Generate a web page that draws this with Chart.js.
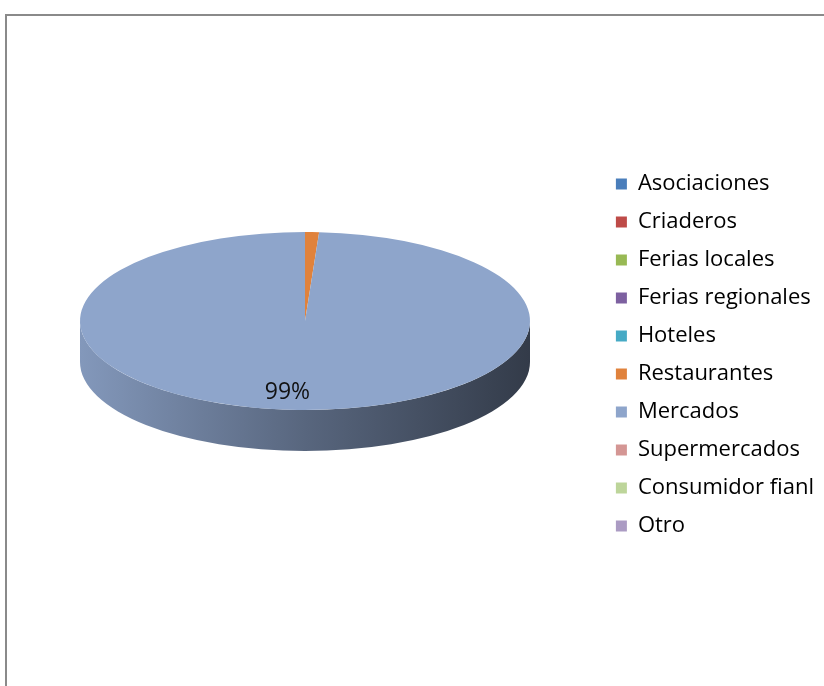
<!DOCTYPE html>
<html>
<head>
<meta charset="utf-8">
<script src="https://cdn.jsdelivr.net/npm/chart.js@4.4.1/dist/chart.umd.min.js"></script>
<style>
  html, body { margin: 0; padding: 0; background: #fff; }
  body { width: 824px; height: 686px; position: relative; overflow: hidden; }
  #frame {
    position: absolute; left: 5px; top: 14px; width: 840px; height: 700px;
    border-left: 2px solid #8a8a8a; border-top: 2px solid #8a8a8a;
  }
  #wrap { position: absolute; left: 0; top: 0; width: 824px; height: 686px; }
</style>
</head>
<body>
<div id="frame"></div>
<div id="wrap"><canvas id="PieChart"></canvas></div>
<script>
const categories = [
  "Asociaciones", "Criaderos", "Ferias locales", "Ferias regionales", "Hoteles",
  "Restaurantes", "Mercados", "Supermercados", "Consumidor fianl", "Otro"
];
const shares = [0, 0, 0, 0, 0, 1, 99, 0, 0, 0];
const sliceColors = [
  "#4a7ebb", "#be4b48", "#98b954", "#7d60a0", "#46aac5",
  "#e0823c", "#8ea5cb", "#d49694", "#bdd59a", "#ab9bc3"
];

// ellipse look of the pie
const CENTER_X = 305;
const CENTER_Y = 321;
const RADIUS = 225;
const FLAT = 89 / 225;
const DEPTH = 41;

function shade(hex, f) {
  const n = parseInt(hex.slice(1), 16);
  const r = Math.round(((n >> 16) & 255) * f);
  const g = Math.round(((n >> 8) & 255) * f);
  const b = Math.round((n & 255) * f);
  return "rgb(" + r + "," + g + "," + b + ")";
}

const pie3d = {
  id: "pie3d",
  beforeDatasetsDraw(chart) {
    const ctx = chart.ctx;
    const arcs = chart.getDatasetMeta(0).data;
    arcs.forEach(function(arc, i) {
      // only the front half of the rim is visible
      const a1 = Math.max(arc.startAngle, 0);
      const a2 = Math.min(arc.endAngle, Math.PI);
      if (a2 <= a1) return;
      const rx = arc.outerRadius;
      const ry = rx * FLAT;
      const grad = ctx.createLinearGradient(CENTER_X - rx, 0, CENTER_X + rx, 0);
      grad.addColorStop(0, shade(sliceColors[i], 0.92));
      grad.addColorStop(0.5, shade(sliceColors[i], 0.62));
      grad.addColorStop(1, shade(sliceColors[i], 0.36));
      ctx.save();
      ctx.beginPath();
      ctx.ellipse(CENTER_X, CENTER_Y, rx, ry, 0, a1, a2);
      ctx.ellipse(CENTER_X, CENTER_Y + DEPTH, rx, ry, 0, a2, a1, true);
      ctx.closePath();
      ctx.fillStyle = grad;
      ctx.fill();
      ctx.restore();
    });
  },
  beforeDatasetDraw(chart) {
    // squash the round pie into the top face of the disc
    const arc = chart.getDatasetMeta(0).data[0];
    const ctx = chart.ctx;
    ctx.save();
    ctx.translate(CENTER_X, CENTER_Y);
    ctx.scale(1, FLAT);
    ctx.translate(-arc.x, -arc.y);
  },
  afterDatasetDraw(chart) {
    chart.ctx.restore();
  },
  afterDatasetsDraw(chart) {
    const ctx = chart.ctx;
    const arcs = chart.getDatasetMeta(0).data;
    const total = shares.reduce((a, b) => a + b, 0);
    arcs.forEach(function(arc, i) {
      const pct = shares[i] / total * 100;
      if (pct < 5) return;
      const mid = (arc.startAngle + arc.endAngle) / 2;
      const x = CENTER_X + Math.cos(mid) * arc.outerRadius * 0.79 - 12;
      const y = CENTER_Y + Math.sin(mid) * arc.outerRadius * FLAT * 0.8;
      ctx.save();
      ctx.font = "23px 'Open Sans'";
      ctx.fillStyle = "#111";
      ctx.textAlign = "center";
      ctx.textBaseline = "middle";
      ctx.fillText(Math.round(pct) + "%", x, y);
      ctx.restore();
    });
  }
};

const ctx = document.getElementById("PieChart").getContext("2d");

new Chart(ctx, {
  type: "pie",
  data: {
    labels: categories,
    datasets: [{
      data: shares,
      backgroundColor: sliceColors,
      borderWidth: 0,
      radius: RADIUS
    }]
  },
  options: {
    responsive: true,
    maintainAspectRatio: false,
    animation: false,
    layout: {
      padding: { left: 0, right: 0, top: 24, bottom: 0 }
    },
    plugins: {
      legend: {
        position: "right",
        labels: {
          boxWidth: 11,
          boxHeight: 11,
          padding: 16,
          color: "#000",
          font: { family: "'Open Sans'", size: 22 }
        }
      },
      tooltip: { enabled: false }
    }
  },
  plugins: [pie3d]
});
</script>
</body>
</html>
